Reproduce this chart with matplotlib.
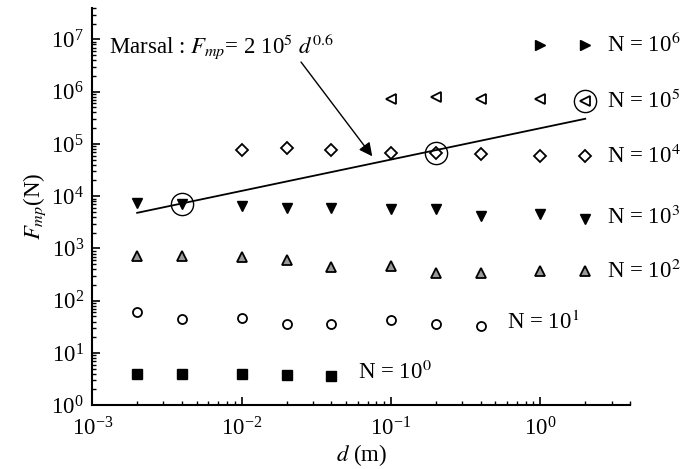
import numpy as np
import matplotlib
matplotlib.use("Agg")
import matplotlib.pyplot as plt
from matplotlib.ticker import LogLocator, NullFormatter

plt.rcParams['font.family'] = ['Liberation Serif', 'DejaVu Serif']
plt.rcParams['mathtext.fontset'] = 'stix'

# diameters (m)
d_all = [0.002, 0.004, 0.01, 0.02, 0.04, 0.1, 0.2, 0.4, 1, 2]

# Fmp values (N) per cycle count
d_n0 = [0.002, 0.004, 0.01, 0.02, 0.04]
f_n0 = [4.0, 4.0, 4.0, 3.8, 3.7]

d_n1 = [0.002, 0.004, 0.01, 0.02, 0.04, 0.1, 0.2, 0.4]
f_n1 = [62, 45, 47, 36, 36, 42, 36, 33]

d_n2 = d_all
f_n2 = [720, 720, 700, 600, 445, 465, 340, 340, 370, 370]

d_n3 = d_all
f_n3 = [7400, 7200, 6400, 6000, 6000, 5600, 5600, 4200, 4500, 3650]

d_n4 = [0.01, 0.02, 0.04, 0.1, 0.2, 0.4, 1, 2]
f_n4 = [75000, 82000, 75000, 66000, 66000, 63000, 58000, 58000]

d_n5 = [0.1, 0.2, 0.4, 1, 2]
f_n5 = [7.4e5, 8.0e5, 7.4e5, 7.4e5, 6.7e5]

d_n6 = [1, 2]
f_n6 = [7.9e6, 7.9e6]

# circled points
d_circ = [0.004, 0.2, 2]
f_circ = [7200, 66000, 6.7e5]

# Marsal law
marsal_a = 2e5
marsal_b = 0.6
d_marsal = np.array([0.002, 2])

labels = [r"N = 10$^{0}$", r"N = 10$^{1}$", r"N = 10$^{2}$", r"N = 10$^{3}$",
          r"N = 10$^{4}$", r"N = 10$^{5}$", r"N = 10$^{6}$"]
label_pos = [(0.06, 4.2), (0.6, 38), (2.8, 370), (2.8, 4000),
             (2.8, 58000), (2.8, 6.7e5), (2.8, 7.9e6)]

FS = 16.5

fig = plt.figure(figsize=(6.88, 4.69), dpi=100)
ax = fig.add_axes([0.134, 0.136, 0.782, 0.847])

ax.plot(d_n0, f_n0, 's', color='black', ms=6.5)
ax.plot(d_n1, f_n1, 'o', mfc='white', mec='black', mew=1.3, ms=6.5)
ax.plot(d_n2, f_n2, '^', mfc='#999999', mec='black', mew=1.3, ms=7)
ax.plot(d_n3, f_n3, 'v', color='black', ms=7.5)
ax.plot(d_n4, f_n4, 'D', mfc='white', mec='black', mew=1.3, ms=6)
ax.plot(d_n5, f_n5, '<', mfc='white', mec='black', mew=1.3, ms=7)
ax.plot(d_n6, f_n6, '>', color='black', ms=7.5)
ax.plot(d_circ, f_circ, 'o', mfc='none', mec='black', mew=1.0, ms=16)

ax.plot(d_marsal, marsal_a * d_marsal ** marsal_b, color='black', lw=1.3)

for txt, (x, y) in zip(labels, label_pos):
    ax.text(x, y, txt, fontsize=FS, va='center', ha='left')

ax.annotate("", xy=(0.075, 5.8e4), xytext=(0.025, 3.7e6),
            arrowprops=dict(arrowstyle='-|>', color='black', lw=1.0,
                            mutation_scale=20, shrinkA=0, shrinkB=0))
ax.text(0.0013, 7.2e6, r"Marsal : $F_{mp}$= 2 10$^{5}$ $d^{0.6}$",
        fontsize=FS, va='center', ha='left')

ax.set_xscale('log')
ax.set_yscale('log')
ax.set_xlim(1e-3, 4)
ax.set_ylim(1, 4e7)

ax.xaxis.set_major_locator(LogLocator(base=10, numticks=10))
ax.yaxis.set_major_locator(LogLocator(base=10, numticks=12))
ax.xaxis.set_minor_locator(LogLocator(base=10, subs=np.arange(2, 10), numticks=10))
ax.yaxis.set_minor_locator(LogLocator(base=10, subs=np.arange(2, 10), numticks=12))
ax.xaxis.set_minor_formatter(NullFormatter())
ax.yaxis.set_minor_formatter(NullFormatter())

ax.spines['top'].set_visible(False)
ax.spines['right'].set_visible(False)
ax.spines['left'].set_linewidth(1.5)
ax.spines['bottom'].set_linewidth(1.5)
ax.tick_params(which='major', direction='in', length=6, width=1.2, labelsize=FS)
ax.tick_params(axis='x', which='major', pad=9)
ax.tick_params(axis='y', which='major', pad=6)
ax.tick_params(which='minor', direction='in', length=3, width=1.0)

ax.set_xlabel(r"$d$ (m)", fontsize=FS, labelpad=1)
ax.set_ylabel(r"$F_{mp}$(N)", fontsize=FS, labelpad=2)

fig.savefig("out.png", dpi=100)
